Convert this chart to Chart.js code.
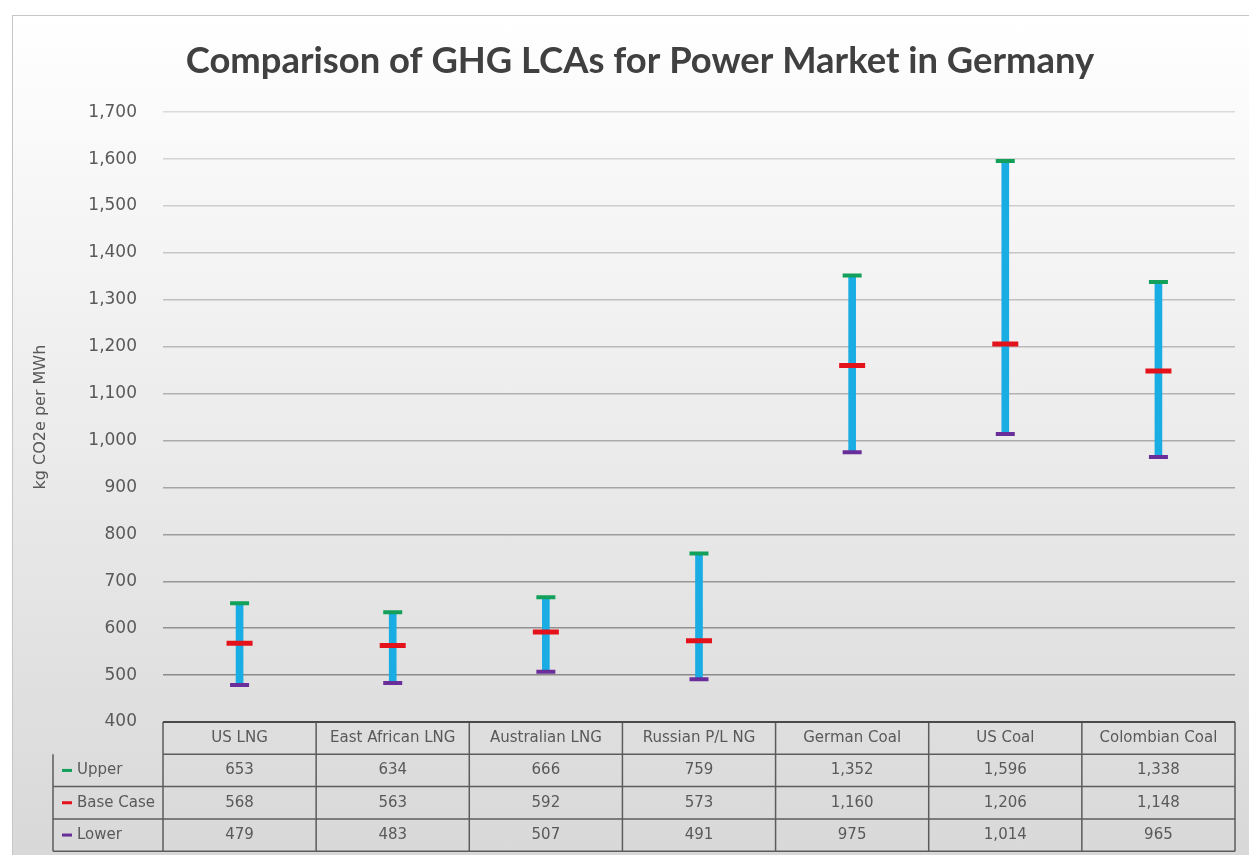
<!DOCTYPE html>
<html>
<head>
<meta charset="utf-8">
<title>Comparison of GHG LCAs for Power Market in Germany</title>
<script src="https://cdn.jsdelivr.net/npm/chart.js@4.4.1/dist/chart.umd.min.js"></script>
<style>
    html, body { margin: 0; padding: 0; background: #fff; overflow: hidden; }
    #frame {
        position: absolute; left: 12px; top: 15px; width: 1260px; height: 845px;
        border-left: 1px solid #c6c6c6; border-top: 1px solid #c6c6c6;
        background: linear-gradient(#ffffff, #d8d8d8);
    }
    canvas { display: block; }
</style>
</head>
<body>
<div id="frame"><canvas id="ghgChart" width="1254" height="839"></canvas></div>
<script>
    const categories = ['US LNG', 'East African LNG', 'Australian LNG', 'Russian P/L NG', 'German Coal', 'US Coal', 'Colombian Coal'];
    const upper = [653, 634, 666, 759, 1352, 1596, 1338];
    const baseCase = [568, 563, 592, 573, 1160, 1206, 1148];
    const lower = [479, 483, 507, 491, 975, 1014, 965];
    const seriesNames = ['Upper', 'Base Case', 'Lower'];
    const seriesColors = ['#12a05a', '#e3121b', '#6a2e9a'];
    const yMin = 400, yMax = 1700, yStep = 100;

    const fmt = v => v.toLocaleString('en-US');

    // data table drawn under the plot, columns follow the x scale
    const dataTable = {
        id: 'dataTable',
        afterDraw(chart) {
            const { ctx, chartArea: a, scales: { x } } = chart;
            const colW = (a.right - a.left) / categories.length;
            const rowH = 32.3;
            const labelLeft = 40;
            const top = a.bottom;
            const rows = [upper, baseCase, lower];
            ctx.save();
            ctx.strokeStyle = '#5c5c5c';
            ctx.lineWidth = 1.5;
            ctx.beginPath();
            // header row
            ctx.moveTo(a.left, top + rowH); ctx.lineTo(a.right, top + rowH);
            for (let r = 1; r <= 3; r++) {
                const y = top + rowH * (r + 1);
                ctx.moveTo(labelLeft, y); ctx.lineTo(a.right, y);
            }
            ctx.moveTo(labelLeft, top + rowH); ctx.lineTo(labelLeft, top + rowH * 4);
            for (let i = 0; i <= categories.length; i++) {
                const xx = a.left + colW * i;
                ctx.moveTo(xx, top); ctx.lineTo(xx, top + rowH * 4);
            }
            ctx.stroke();
            // axis line on top of the table
            ctx.strokeStyle = '#4a4a4a';
            ctx.lineWidth = 2;
            ctx.beginPath();
            ctx.moveTo(a.left, top); ctx.lineTo(a.right, top);
            ctx.stroke();

            ctx.font = '15px "DejaVu Sans"';
            ctx.fillStyle = '#595959';
            ctx.textAlign = 'center';
            ctx.textBaseline = 'middle';
            categories.forEach((c, i) => {
                ctx.fillText(c, x.getPixelForValue(i), top + rowH / 2);
            });
            rows.forEach((vals, r) => {
                const cy = top + rowH * (r + 1.5);
                ctx.textAlign = 'center';
                vals.forEach((v, i) => ctx.fillText(fmt(v), x.getPixelForValue(i), cy));
                ctx.fillStyle = seriesColors[r];
                ctx.fillRect(labelLeft + 9, cy - 1.5, 10, 3);
                ctx.fillStyle = '#595959';
                ctx.textAlign = 'left';
                ctx.fillText(seriesNames[r], labelLeft + 24, cy);
            });
            ctx.restore();
        }
    };

    function gridColor(c) {
        const t = (c.tick.value - 500) / 1200;
        const g = Math.round(138 + t * 80);
        return `rgb(${g},${g},${g})`;
    }

    function renderChart() {
        const canvas = document.getElementById('ghgChart');
        new Chart(canvas.getContext('2d'), {
            type: 'bar',
            data: {
                labels: categories,
                datasets: [
                    {
                        label: 'Range',
                        data: categories.map((c, i) => [lower[i], upper[i]]),
                        backgroundColor: '#19ade4',
                        barThickness: 7,
                        order: 4
                    },
                    {
                        type: 'line', label: seriesNames[0], data: upper, showLine: false,
                        pointStyle: 'line', pointRadius: 9.5, pointBorderWidth: 4,
                        borderColor: seriesColors[0], order: 1
                    },
                    {
                        type: 'line', label: seriesNames[1], data: baseCase, showLine: false,
                        pointStyle: 'line', pointRadius: 13, pointBorderWidth: 5,
                        borderColor: seriesColors[1], order: 2
                    },
                    {
                        type: 'line', label: seriesNames[2], data: lower, showLine: false,
                        pointStyle: 'line', pointRadius: 9.5, pointBorderWidth: 4,
                        borderColor: seriesColors[2], order: 3
                    }
                ]
            },
            options: {
                responsive: false,
                animation: false,
                layout: { padding: { left: 0, right: 0, top: 0, bottom: 133 } },
                plugins: {
                    legend: { display: false },
                    tooltip: { enabled: false },
                    title: {
                        display: true,
                        text: 'Comparison of GHG LCAs for Power Market in Germany',
                        color: '#404040',
                        font: { family: 'Lato', size: 36.4, weight: 'bold' },
                        padding: { top: 23, bottom: 29.5 }
                    }
                },
                scales: {
                    x: { display: false, offset: true },
                    y: {
                        min: yMin, max: yMax,
                        border: { display: false },
                        grid: { color: gridColor, lineWidth: 1.5, drawTicks: false },
                        ticks: {
                            stepSize: yStep, padding: 26, color: '#595959',
                            font: { family: 'DejaVu Sans', size: 17 },
                            callback: v => fmt(v)
                        },
                        title: {
                            display: true, text: 'kg CO2e per MWh', color: '#595959',
                            font: { family: 'DejaVu Sans', size: 16 },
                            padding: { top: 18, bottom: 0 }
                        },
                        afterFit: s => { s.width = 150; }
                    },
                    yRight: {
                        position: 'right', display: true,
                        border: { display: false },
                        grid: { display: false, drawTicks: false },
                        ticks: { display: false },
                        afterFit: s => { s.width = 32; }
                    }
                }
            },
            plugins: [dataTable]
        });
    }

    if (document.readyState === 'loading') {
        document.addEventListener('DOMContentLoaded', renderChart);
    } else { renderChart(); }
</script>
</body>
</html>
